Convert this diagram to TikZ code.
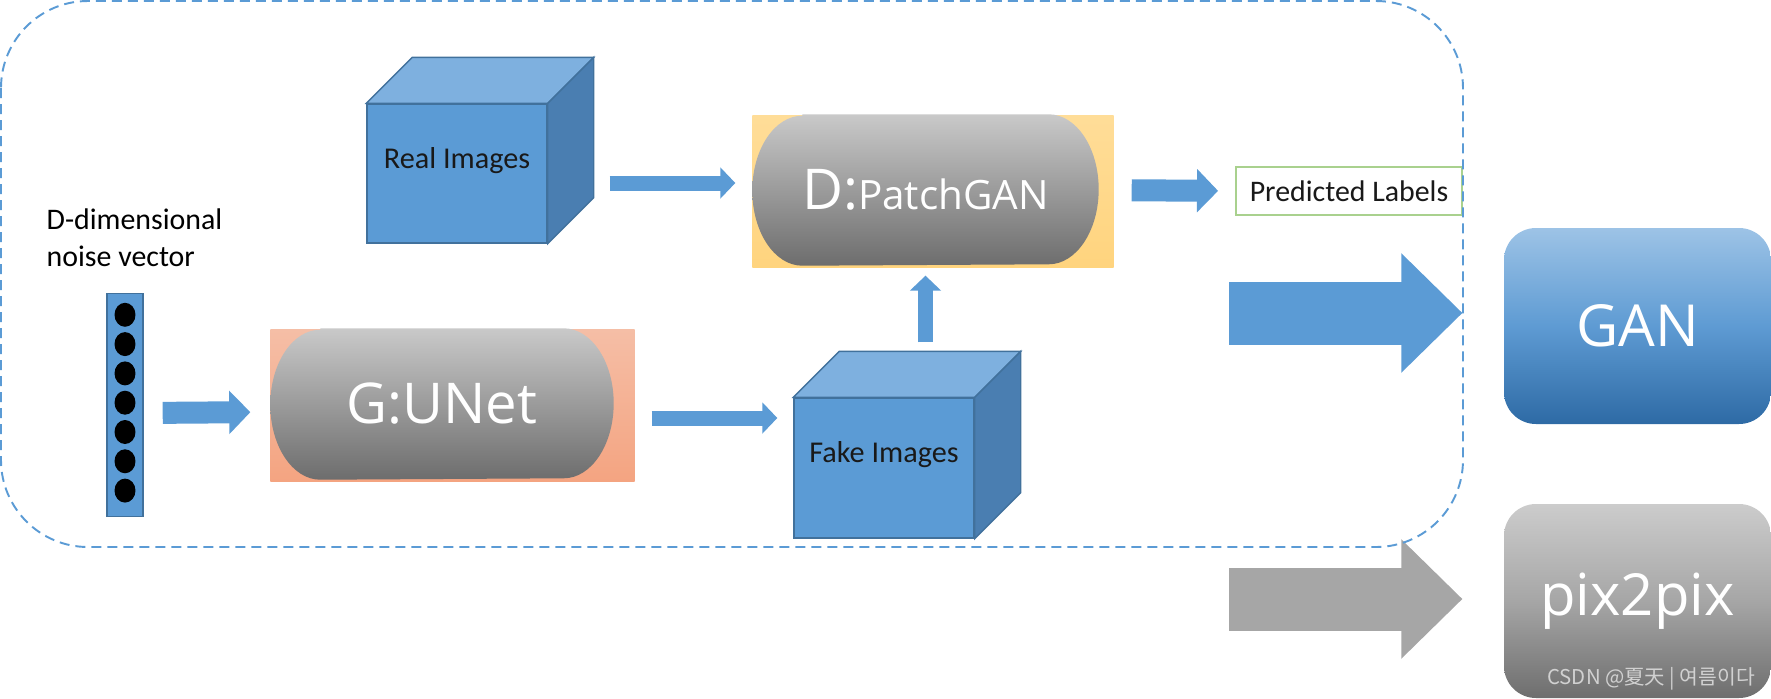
\documentclass[tikz,border=0pt]{standalone}
\usepackage{fontspec}
\setmainfont{Carlito}
\newfontfamily\uifont{Open Sans}
\newfontfamily\cjkfont{Noto Sans CJK SC}
\usepackage{tikz}
\usetikzlibrary{arrows.meta,positioning,calc,backgrounds}
\definecolor{FlowBlue}{HTML}{5B9BD5}
\definecolor{CubeTop}{HTML}{7EB0DF}
\definecolor{CubeSide}{HTML}{4A7EB1}
\definecolor{CubeEdge}{HTML}{41719C}
\definecolor{PillTop}{HTML}{C9C9C9}
\definecolor{PillBot}{HTML}{6D6D6D}
\definecolor{GoldTop}{HTML}{FFDD98}
\definecolor{GoldBot}{HTML}{FFD47E}
\definecolor{SalmonTop}{HTML}{F5BEA6}
\definecolor{SalmonBot}{HTML}{F4A481}
\definecolor{LabelGreen}{HTML}{A9D18E}
\definecolor{GanTop}{HTML}{9DC3E6}
\definecolor{GanMid}{HTML}{5E9BD3}
\definecolor{GanBot}{HTML}{2E6AA5}
\definecolor{PixTop}{HTML}{CCCCCC}
\definecolor{PixMid}{HTML}{A6A6A6}
\definecolor{PixBot}{HTML}{6E6E6E}
\definecolor{ArrowGrey}{HTML}{A6A6A6}
\tikzset{
  lbl/.style={font=\fontsize{8.5}{10.5}\selectfont,text=black},
  cubelbl/.style={font=\fontsize{8.6}{10}\selectfont,text=black!90},
  cubeface/.style={rectangle,draw=CubeEdge,line width=0.4pt,fill=FlowBlue,
                   minimum width=1.8cm,minimum height=1.39cm,inner sep=0pt},
  pill/.style={rectangle,minimum width=3.45cm,minimum height=1.5cm,inner sep=0pt,
               text=white,font=\uifont\fontsize{16}{18}\selectfont},
  noisebar/.style={rectangle,fill=FlowBlue,draw=CubeEdge,line width=0.4pt,
                   minimum width=0.36cm,minimum height=2.23cm,inner sep=0pt},
  predbox/.style={rectangle,draw=LabelGreen,line width=0.55pt,fill=white,
                  minimum width=2.26cm,minimum height=0.48cm,inner sep=0pt,
                  font=\fontsize{8.5}{10}\selectfont,text=black!90},
  panel/.style={rectangle,rounded corners=0.32cm,minimum width=2.67cm,
                inner sep=0pt,text=white,font=\uifont\fontsize{16.5}{19}\selectfont},
  flow/.style={-{Triangle[length=0.15cm,width=0.31cm,line width=0.6pt]},
               line width=0.15cm,draw=FlowBlue},
  flowmid/.style={-{Triangle[length=0.21cm,width=0.43cm,line width=0.6pt]},
                  line width=0.22cm,draw=FlowBlue},
  bigflow/.style={-{Triangle[length=0.61cm,width=1.19cm,line width=0.8pt]},
                  line width=0.63cm,draw=#1},
  bigflow/.default=FlowBlue,
  groupbox/.style={draw=FlowBlue,line width=0.55pt,rounded corners=0.87cm,
                   dash pattern=on 0.1cm off 0.06cm},
}
% top and right faces of a cube whose front face is node #1
\newcommand{\cubeback}[1]{%
  \filldraw[fill=CubeTop,draw=CubeEdge,line width=0.4pt] (#1.north west) -- ++(0.46,0.46)
    -- ([shift={(0.46,0.46)}]#1.north east) -- (#1.north east) -- cycle;
  \filldraw[fill=CubeSide,draw=CubeEdge,line width=0.4pt] (#1.north east) -- ++(0.46,0.46)
    -- ([shift={(0.46,0.46)}]#1.south east) -- (#1.south east) -- cycle;}
% coloured backdrop and grey pill behind node #1
\newcommand{\netback}[3]{%
  \path[#2] ([yshift=-0.01cm]#1.north west) rectangle ([shift={(#3,-0.015)}]#1.south east);
  \shade[top color=PillTop,bottom color=PillBot]
    ([xshift=0.5cm]#1.north west) -- ([xshift=-0.5cm]#1.north east)
    arc[start angle=90,end angle=-90,x radius=0.5cm,y radius=0.75cm]
    -- ([xshift=0.5cm]#1.south west)
    arc[start angle=270,end angle=90,x radius=0.5cm,y radius=0.75cm] -- cycle;}

\begin{document}
\begin{tikzpicture}
  \useasboundingbox (0,0) rectangle (17.71,-6.98);

  \node[lbl,align=left,anchor=north west,inner sep=0pt] (noiselbl) at (0.46,-2.08)
       {D-dimensional\\noise vector};
  \node[noisebar] (noise) at (1.25,-4.05) {};
  \foreach \k in {0,...,6}
    \fill ($(noise.north)+(0,-0.22-0.293*\k)$) ellipse [x radius=0.105, y radius=0.12];

  \node[cubeface,label={[cubelbl,yshift=0.13cm]center:Real Images}] (real) at (4.57,-1.735) {};
  \cubeback{real}
  \node[cubeface,minimum height=1.4cm,label={[cubelbl,yshift=0.13cm]center:Fake Images}] (fake) at (8.84,-4.68) {};
  \cubeback{fake}

  \node[pill] (dnet) at (9.255,-1.90) {D:{\fontsize{11.5}{13}\selectfont PatchGAN}};
  \node[pill,minimum width=3.42cm] (gnet) at (4.42,-4.04) {G:UNet};
  \begin{scope}[on background layer]
    \netback{dnet}{top color=GoldTop,bottom color=GoldBot}{0.15}
    \netback{gnet}{top color=SalmonTop,bottom color=SalmonBot}{0.21}
  \end{scope}

  \node[predbox] (pred) at (13.49,-1.91) {Predicted Labels};

  \node[panel,minimum height=1.96cm,top color=GanTop,bottom color=GanBot,middle color=GanMid]
       (gan) at (16.375,-3.26) {GAN};
  \node[panel,minimum height=1.94cm,top color=PixTop,bottom color=PixBot,middle color=PixMid]
       (pix) at (16.375,-6.01) {pix2pix};
  \node[font=\cjkfont\fontsize{5.8}{7}\selectfont,text=white!82!black,anchor=east,inner sep=0pt]
       (mark) at ($(pix.south east)+(-0.16,0.2)$) {CSDN @夏天 | 여름이다};

  \draw[flowmid,shorten <=0.19cm,shorten >=0.2cm] ($(noise.east)+(0,-0.08)$) -- ($(gnet.west)+(0,-0.08)$);
  \draw[flow,shorten <=0.38cm,shorten >=0.16cm] ($(gnet.east)+(0,-0.14)$) -- ($(gnet.east -| fake.west)+(0,-0.14)$);
  \draw[flow,shorten >=0.1cm] (dnet.south |- fake.north) ++(0,0.55) -- (dnet.south);
  \draw[flow,shorten <=0.62cm,shorten >=0.17cm] ($(real.east |- dnet.west)+(0,0.07)$) -- ($(dnet.west)+(0,0.07)$);
  \draw[flowmid,shorten <=0.33cm,shorten >=0.17cm] (dnet.east) -- (pred.west);

  \coordinate (ganfrom) at (12.29,-3.13);
  \coordinate (pixfrom) at (12.29,-5.99);
  \draw[bigflow,shorten >=0.41cm] (ganfrom) -- (ganfrom -| gan.west);
  \draw[bigflow=ArrowGrey,shorten >=0.41cm] (pixfrom) -- (pixfrom -| pix.west);

  \draw[groupbox] (0.01,-0.01) rectangle (14.63,-5.47);
\end{tikzpicture}
\end{document}
